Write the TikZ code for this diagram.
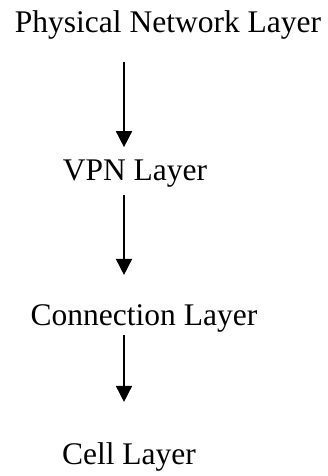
\documentclass[tikz,border=0pt]{standalone}
\usepackage{fontspec}
\setmainfont{Liberation Serif}
\usepackage{tikz}
\usetikzlibrary{arrows.meta}
\tikzstyle{layer} = [inner sep=0pt, anchor=base, font=\fontsize{31.5pt}{36pt}\selectfont]
\tikzstyle{arrow} = [line width=1.6pt, -{Triangle[length=16pt,width=16pt]}]

\begin{document}
\begin{tikzpicture}
            \useasboundingbox (0,0) rectangle (328pt,-476pt);

            \node[layer] (phys) at (168pt,-33pt) {Physical Network Layer};
            \node[layer] (vpn) at (135pt,-180pt) {VPN Layer};
            \node[layer] (conn) at (144pt,-325pt) {Connection Layer};
            \node[layer] (cell) at (129pt,-464pt) {Cell Layer};

            \coordinate (ax) at (124pt,0);

            \draw[arrow] ([yshift=-22pt]phys.south -| ax) -- ([yshift=12pt]vpn.north -| ax);
            \draw[arrow] ([yshift=-8pt]vpn.south -| ax) -- ([yshift=29pt]conn.north -| ax);
            \draw[arrow] ([yshift=-3pt]conn.south -| ax) -- ([yshift=40pt]cell.north -| ax);

        \end{tikzpicture}
\end{document}
